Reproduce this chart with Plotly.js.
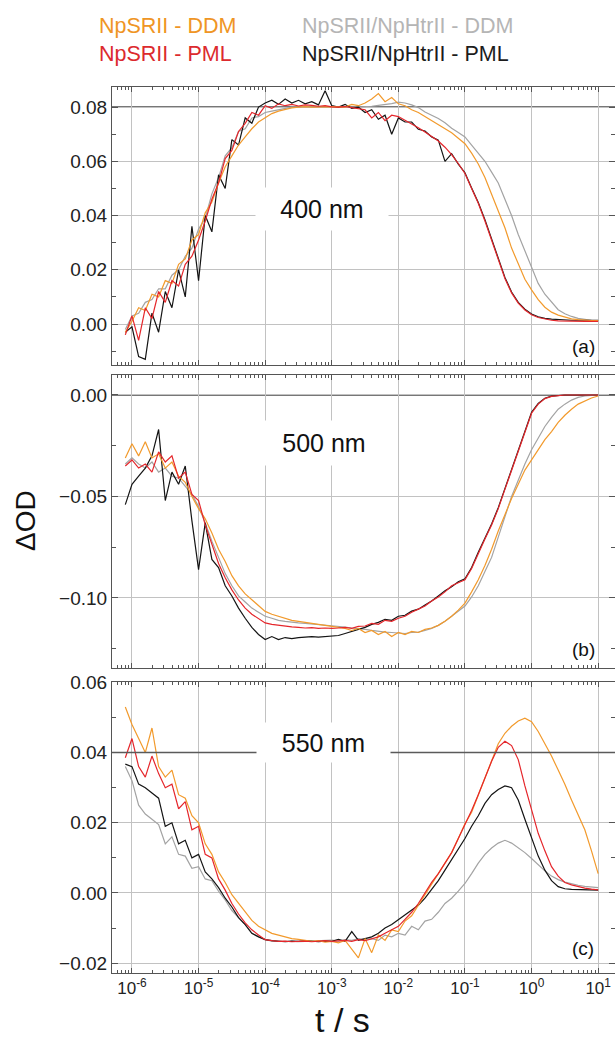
<!DOCTYPE html>
<html>
<head>
<meta charset="utf-8">
<script src="https://cdn.plot.ly/plotly-3.0.1.min.js"></script>
<style>html,body{margin:0;padding:0;background:#fff;}#chart{width:615px;height:1041px;}</style>
</head>
<body>
<div id="chart"></div>
<script>
// time grid as log10(t / s)
const logTime = [
 -6.1,-6.0,-5.9,-5.8,-5.7,-5.6,-5.5,-5.4,-5.3,-5.2,
 -5.1,-5.0,-4.9,-4.8,-4.7,-4.6,-4.5,-4.4,-4.3,-4.2,
 -4.1,-4.0,-3.9,-3.8,-3.7,-3.6,-3.5,-3.4,-3.3,-3.2,
 -3.1,-3.0,-2.9,-2.8,-2.7,-2.6,-2.5,-2.4,-2.3,-2.2,
 -2.1,-2.0,-1.9,-1.8,-1.7,-1.6,-1.5,-1.4,-1.3,-1.2,
 -1.1,-1.0,-0.9,-0.8,-0.7,-0.6,-0.5,-0.4,-0.3,-0.2,
 -0.1,0.0,0.1,0.2,0.3,0.4,0.5,0.6,0.7,0.8,
 0.9,1.0];

const seriesNames = ["NpSRII - DDM","NpSRII - PML","NpSRII/NpHtrII - DDM","NpSRII/NpHtrII - PML"];

// ---- 400 nm ----
const a_srDDM = [
 -0.003,0.001,0.006,0.005,0.011,0.010,0.016,0.015,0.022,0.024,
 0.031,0.033,0.041,0.045,0.052,0.058,0.062,0.066,0.069,0.072,
 0.0745,0.0762,0.0776,0.0785,0.0792,0.0797,0.0800,0.0802,0.0800,0.0801,
 0.0800,0.0802,0.0801,0.0800,0.0810,0.0805,0.0815,0.0830,0.0850,0.0820,
 0.0835,0.0812,0.0805,0.0790,0.0780,0.0765,0.0752,0.0738,0.0722,0.0705,
 0.0685,0.0665,0.0630,0.0590,0.0540,0.0480,0.0420,0.0355,0.0280,0.0220,
 0.0165,0.0126,0.0090,0.0062,0.0044,0.0033,0.0025,0.0019,0.0016,0.0014,
 0.0013,0.0013];
const a_srPML = [
 -0.004,0.003,-0.006,0.006,0.002,0.012,0.008,0.016,0.014,0.022,
 0.025,0.031,0.038,0.046,0.052,0.061,0.064,0.071,0.074,0.078,
 0.077,0.0805,0.0795,0.0812,0.0805,0.0810,0.0804,0.0808,0.0806,0.0803,
 0.0805,0.0801,0.0800,0.0802,0.0798,0.0795,0.0790,0.0760,0.0780,0.0750,
 0.0770,0.0765,0.0752,0.0740,0.0724,0.0708,0.0693,0.0675,0.0652,0.0625,
 0.0592,0.0555,0.0500,0.0445,0.0380,0.0310,0.0237,0.0168,0.0115,0.0077,
 0.0052,0.0034,0.0024,0.0018,0.0014,0.0012,0.0011,0.0010,0.0010,0.0010,
 0.0010,0.0010];
const a_htDDM = [
 -0.002,0.003,0.004,0.008,0.009,0.013,0.013,0.018,0.020,0.025,
 0.028,0.035,0.039,0.048,0.054,0.062,0.065,0.071,0.072,0.076,
 0.0765,0.0780,0.0785,0.0790,0.0795,0.0800,0.0800,0.0802,0.0800,0.0801,
 0.0800,0.0801,0.0800,0.0801,0.0799,0.0800,0.0801,0.0803,0.0806,0.0809,
 0.0813,0.0818,0.0815,0.0808,0.0798,0.0782,0.0770,0.0758,0.0742,0.0722,
 0.0706,0.0690,0.0660,0.0630,0.0600,0.0560,0.0520,0.0460,0.0400,0.0330,
 0.0270,0.0210,0.0150,0.0110,0.0080,0.0053,0.0038,0.0028,0.0021,0.0017,
 0.0014,0.0013];
const a_htPML = [
 -0.003,-0.001,-0.012,-0.013,0.004,-0.003,0.012,0.006,0.020,0.010,
 0.036,0.016,0.040,0.034,0.055,0.050,0.068,0.066,0.076,0.074,
 0.0800,0.0815,0.0825,0.0810,0.0830,0.0815,0.0825,0.0812,0.0820,0.0808,
 0.0860,0.0805,0.0800,0.0810,0.0795,0.0800,0.0780,0.0790,0.0755,0.0770,
 0.0700,0.0760,0.0745,0.0745,0.0718,0.0712,0.0690,0.0678,0.0600,0.0628,
 0.0590,0.0558,0.0502,0.0448,0.0385,0.0312,0.0240,0.0172,0.0118,0.0080,
 0.0055,0.0037,0.0027,0.0021,0.0018,0.0016,0.0015,0.0014,0.0014,0.0014,
 0.0014,0.0014];

// ---- 500 nm ----
const b_srDDM = [
 -0.031,-0.024,-0.030,-0.023,-0.031,-0.029,-0.036,-0.033,-0.040,-0.043,
 -0.050,-0.056,-0.061,-0.068,-0.076,-0.082,-0.089,-0.094,-0.098,-0.101,
 -0.104,-0.1066,-0.108,-0.109,-0.110,-0.111,-0.1115,-0.112,-0.1125,-0.113,
 -0.1135,-0.114,-0.1145,-0.115,-0.116,-0.115,-0.117,-0.116,-0.118,-0.1165,
 -0.119,-0.117,-0.118,-0.1165,-0.117,-0.1155,-0.1148,-0.1135,-0.1115,-0.109,
 -0.106,-0.1025,-0.097,-0.091,-0.084,-0.076,-0.067,-0.059,-0.051,-0.044,
 -0.037,-0.032,-0.027,-0.022,-0.018,-0.0135,-0.010,-0.007,-0.0045,-0.0028,
 -0.0015,-0.0005];
const b_srPML = [
 -0.035,-0.032,-0.036,-0.034,-0.038,-0.028,-0.033,-0.030,-0.041,-0.038,
 -0.049,-0.052,-0.064,-0.074,-0.083,-0.090,-0.096,-0.101,-0.105,-0.108,
 -0.110,-0.1123,-0.113,-0.1135,-0.114,-0.1142,-0.1145,-0.1148,-0.1146,-0.115,
 -0.1148,-0.115,-0.1148,-0.1145,-0.115,-0.114,-0.1138,-0.1125,-0.113,-0.111,
 -0.1115,-0.110,-0.109,-0.107,-0.1055,-0.104,-0.1015,-0.0995,-0.097,-0.094,
 -0.0925,-0.091,-0.0855,-0.078,-0.071,-0.064,-0.056,-0.0465,-0.037,-0.027,
 -0.0175,-0.009,-0.0045,-0.0018,-0.0007,-0.0002,0.0,0.0,0.0,0.0,
 0.0,0.0];
const b_htDDM = [
 -0.034,-0.031,-0.034,-0.036,-0.033,-0.038,-0.036,-0.040,-0.041,-0.045,
 -0.049,-0.055,-0.063,-0.072,-0.080,-0.088,-0.094,-0.099,-0.102,-0.105,
 -0.107,-0.109,-0.110,-0.111,-0.1115,-0.112,-0.1123,-0.1125,-0.1128,-0.113,
 -0.1132,-0.1135,-0.114,-0.1143,-0.1148,-0.115,-0.1155,-0.116,-0.1165,-0.1168,
 -0.117,-0.1172,-0.1175,-0.117,-0.1168,-0.116,-0.115,-0.1135,-0.1115,-0.109,
 -0.1065,-0.104,-0.0995,-0.094,-0.087,-0.080,-0.070,-0.060,-0.050,-0.042,
 -0.034,-0.027,-0.021,-0.0155,-0.011,-0.007,-0.0045,-0.0025,-0.0012,-0.0005,
 -0.0002,0.0];
const b_htPML = [
 -0.054,-0.044,-0.040,-0.036,-0.030,-0.017,-0.052,-0.038,-0.044,-0.035,
 -0.062,-0.086,-0.063,-0.081,-0.085,-0.094,-0.099,-0.105,-0.110,-0.1145,
 -0.118,-0.1205,-0.119,-0.1205,-0.1195,-0.120,-0.1195,-0.1192,-0.119,-0.1193,
 -0.119,-0.1188,-0.1185,-0.1175,-0.1165,-0.1155,-0.1145,-0.113,-0.112,-0.1105,
 -0.111,-0.109,-0.1085,-0.1065,-0.1055,-0.1035,-0.1015,-0.099,-0.0965,-0.0945,
 -0.092,-0.0905,-0.085,-0.0775,-0.0705,-0.0635,-0.0555,-0.046,-0.0365,-0.0265,
 -0.017,-0.0085,-0.0042,-0.0016,-0.0006,-0.0002,0.0,0.0,0.0,0.0,
 0.0,0.0];

// ---- 550 nm ----
const c_srDDM = [
 0.053,0.048,0.044,0.040,0.047,0.036,0.033,0.035,0.028,0.027,
 0.022,0.020,0.014,0.011,0.006,0.003,-0.0005,-0.003,-0.0055,-0.0078,
 -0.0095,-0.0105,-0.0115,-0.012,-0.0125,-0.013,-0.0132,-0.0135,-0.0138,-0.0136,
 -0.014,-0.0138,-0.0142,-0.0135,-0.016,-0.0185,-0.013,-0.017,-0.012,-0.0135,
 -0.0105,-0.011,-0.008,-0.0065,-0.0035,-0.0005,0.0025,0.0055,0.0085,0.0115,
 0.0155,0.0197,0.023,0.028,0.033,0.038,0.0425,0.0455,0.0475,0.049,
 0.0498,0.0488,0.046,0.0425,0.039,0.035,0.031,0.0265,0.022,0.018,
 0.012,0.0055];
const c_srPML = [
 0.0385,0.044,0.036,0.033,0.039,0.034,0.030,0.031,0.024,0.026,
 0.018,0.019,0.011,0.010,0.004,0.0008,-0.003,-0.006,-0.0085,-0.0105,
 -0.012,-0.0133,-0.0136,-0.0138,-0.0137,-0.0139,-0.0138,-0.0137,-0.0139,-0.0138,
 -0.0136,-0.0138,-0.0137,-0.0135,-0.0138,-0.0133,-0.0136,-0.013,-0.0125,-0.0115,
 -0.0105,-0.0095,-0.0075,-0.0055,-0.003,0.0,0.003,0.0055,0.0085,0.0115,
 0.0155,0.0195,0.0235,0.028,0.033,0.0375,0.0415,0.0432,0.042,0.038,
 0.0305,0.024,0.017,0.012,0.0075,0.0048,0.003,0.0023,0.0018,0.0014,
 0.0011,0.0009];
const c_htDDM = [
 0.036,0.032,0.025,0.0225,0.021,0.0195,0.014,0.016,0.011,0.0105,
 0.007,0.0075,0.004,0.0035,0.0005,-0.002,-0.005,-0.007,-0.009,-0.0115,
 -0.0125,-0.0133,-0.0137,-0.0138,-0.0138,-0.0137,-0.0139,-0.0138,-0.0137,-0.0138,
 -0.0136,-0.0134,-0.0137,-0.0133,-0.0135,-0.013,-0.0133,-0.013,-0.0135,-0.012,
 -0.0125,-0.0115,-0.012,-0.0095,-0.0105,-0.008,-0.0075,-0.0055,-0.003,-0.0015,
 0.0005,0.0027,0.0055,0.0085,0.011,0.0128,0.0142,0.015,0.0142,0.0128,
 0.0115,0.0098,0.008,0.0063,0.0048,0.0038,0.0031,0.0026,0.0022,0.0019,
 0.0017,0.0015];
const c_htPML = [
 0.0367,0.036,0.031,0.030,0.0285,0.027,0.019,0.020,0.014,0.015,
 0.010,0.011,0.006,0.004,0.0015,-0.0015,-0.004,-0.007,-0.009,-0.0115,
 -0.0125,-0.0133,-0.0136,-0.0138,-0.0139,-0.0137,-0.0138,-0.0136,-0.0138,-0.0139,
 -0.0137,-0.0138,-0.0132,-0.0138,-0.011,-0.0135,-0.013,-0.0125,-0.0115,-0.010,
 -0.009,-0.0076,-0.0062,-0.005,-0.0035,-0.0015,0.001,0.0035,0.0065,0.0095,
 0.0125,0.0155,0.019,0.022,0.0255,0.028,0.0295,0.0305,0.030,0.0265,
 0.021,0.0158,0.0105,0.0065,0.0035,0.0018,0.0012,0.001,0.0009,0.0008,
 0.0008,0.0008];

const xTickVals = [1e-6,1e-5,1e-4,1e-3,1e-2,1e-1,1e0,1e1];
const xTickText = ["10<sup>-6</sup>","10<sup>-5</sup>","10<sup>-4</sup>","10<sup>-3</sup>","10<sup>-2</sup>","10<sup>-1</sup>","10<sup>0</sup>","10<sup>1</sup>"];
const panelLabels = ["(a)","(b)","(c)"];
const wavelengthLabels = ["400 nm","500 nm","550 nm"];

// ---- build ----
const t = logTime.map(e => Math.pow(10, e));
const colors = {srDDM:"#F29A2C", srPML:"#E5262B", htDDM:"#A3A3A3", htPML:"#141414"};
const textColors = ["#EF9525","#DC2A2E","#B5B5B5","#1C1C1C"];
const FONT = "Liberation Sans, Arial, Helvetica, sans-serif";

const panels = [
  {xa:"x", ya:"y", d:{srDDM:a_srDDM, srPML:a_srPML, htDDM:a_htDDM, htPML:a_htPML}},
  {xa:"x2", ya:"y2", d:{srDDM:b_srDDM, srPML:b_srPML, htDDM:b_htDDM, htPML:b_htPML}},
  {xa:"x3", ya:"y3", d:{srDDM:c_srDDM, srPML:c_srPML, htDDM:c_htDDM, htPML:c_htPML}}
];
const order = ["htDDM","htPML","srDDM","srPML"];
const nameOf = {srDDM:seriesNames[0], srPML:seriesNames[1], htDDM:seriesNames[2], htPML:seriesNames[3]};
const traces = [];
panels.forEach(p => {
  order.forEach(k => {
    traces.push({x:t, y:p.d[k], xaxis:p.xa, yaxis:p.ya, type:"scatter", mode:"lines",
      name:nameOf[k], showlegend:false, line:{color:colors[k], width:1.2}});
  });
});

const minorX = [];
for (let k = -7; k <= 0; k++) for (let m = 2; m <= 9; m++) minorX.push(m * Math.pow(10, k));

// plot area: x 112..615, y 87..973
const T0 = 87, B0 = 973, H = B0 - T0;
const py = v => (B0 - v) / H;
const px = v => (v - 112) / 503;

function xax(show) {
  return {type:"log", range:[-6.3, 1.253], tickmode:"array", tickvals:xTickVals, ticktext:xTickText,
    showticklabels:show, showgrid:true, gridcolor:"#c2c2c2", gridwidth:1, zeroline:false,
    showline:true, linecolor:"#555", linewidth:1, mirror:"allticks", ticks:"inside", ticklen:5,
    tickcolor:"#555", tickfont:{family:FONT, size:17, color:"#222"},
    minor:{tickmode:"array", tickvals:minorX, ticks:"inside", ticklen:3, tickcolor:"#555", showgrid:false}};
}
function yax(dom, range, dt, mdt) {
  return {domain:dom, range:range, tickmode:"linear", tick0:0, dtick:dt, tickformat:".2f",
    showgrid:true, gridcolor:"#c2c2c2", gridwidth:1, zeroline:false,
    showline:true, linecolor:"#555", linewidth:1, mirror:"allticks", ticks:"inside", ticklen:6,
    tickcolor:"#555", tickfont:{family:FONT, size:19, color:"#222"},
    minor:{dtick:mdt, ticks:"inside", ticklen:4, tickcolor:"#555", showgrid:false}};
}

const layout = {
  width:615, height:1041, paper_bgcolor:"#fff", plot_bgcolor:"#fff",
  margin:{l:112, r:0, t:T0, b:1041-B0},
  font:{family:FONT},
  showlegend:false,
  xaxis: Object.assign(xax(false), {anchor:"y", matches:"x3"}),
  xaxis2: Object.assign(xax(false), {anchor:"y2", matches:"x3"}),
  xaxis3: Object.assign(xax(true), {anchor:"y3"}),
  yaxis: Object.assign(yax([py(365), 1], [-0.0151, 0.0874], 0.02, 0.01), {anchor:"x"}),
  yaxis2: Object.assign(yax([py(668), py(375)], [-0.1345, 0.00985], 0.05, 0.025), {anchor:"x2"}),
  yaxis3: Object.assign(yax([0, py(682)], [-0.0228, 0.0601], 0.02, 0.01), {anchor:"x3"}),
  shapes:[
    {type:"line", xref:"x domain", yref:"y", x0:0, x1:1, y0:0.08, y1:0.08, layer:"below", line:{color:"#4a4a4a", width:1.6}},
    {type:"line", xref:"x2 domain", yref:"y2", x0:0, x1:1, y0:0, y1:0, layer:"below", line:{color:"#4a4a4a", width:1.6}},
    {type:"line", xref:"x3 domain", yref:"y3", x0:0, x1:1, y0:0.04, y1:0.04, layer:"above", line:{color:"#5a5a5a", width:1.5}}
  ],
  annotations:[
    {text:seriesNames[0], xref:"paper", yref:"paper", x:px(97), y:py(26), xanchor:"left", yanchor:"middle", showarrow:false, font:{family:FONT, size:21.5, color:textColors[0]}},
    {text:seriesNames[1], xref:"paper", yref:"paper", x:px(97), y:py(54), xanchor:"left", yanchor:"middle", showarrow:false, font:{family:FONT, size:21.5, color:textColors[1]}},
    {text:seriesNames[2], xref:"paper", yref:"paper", x:px(300), y:py(26), xanchor:"left", yanchor:"middle", showarrow:false, font:{family:FONT, size:21.5, color:textColors[2]}},
    {text:seriesNames[3], xref:"paper", yref:"paper", x:px(300), y:py(54), xanchor:"left", yanchor:"middle", showarrow:false, font:{family:FONT, size:21.5, color:textColors[3]}},
    {text:wavelengthLabels[0], xref:"paper", yref:"paper", x:px(322), y:py(209), xanchor:"center", yanchor:"middle", width:130, height:40, bgcolor:"#fff", showarrow:false, font:{family:FONT, size:25, color:"#111"}},
    {text:wavelengthLabels[1], xref:"paper", yref:"paper", x:px(324), y:py(443), xanchor:"center", yanchor:"middle", width:130, height:42, bgcolor:"#fff", showarrow:false, font:{family:FONT, size:25, color:"#111"}},
    {text:wavelengthLabels[2], xref:"paper", yref:"paper", x:px(323), y:py(742), xanchor:"center", yanchor:"middle", width:131, height:37, bgcolor:"#fff", showarrow:false, font:{family:FONT, size:25, color:"#111"}},
    {text:panelLabels[0], xref:"paper", yref:"paper", x:px(583), y:py(346), xanchor:"center", yanchor:"middle", showarrow:false, font:{family:FONT, size:19, color:"#111"}},
    {text:panelLabels[1], xref:"paper", yref:"paper", x:px(583), y:py(649), xanchor:"center", yanchor:"middle", showarrow:false, font:{family:FONT, size:19, color:"#111"}},
    {text:panelLabels[2], xref:"paper", yref:"paper", x:px(583), y:py(948), xanchor:"center", yanchor:"middle", showarrow:false, font:{family:FONT, size:19, color:"#111"}},
    {text:"t / s", xref:"paper", yref:"paper", x:px(342), y:py(1020), xanchor:"center", yanchor:"middle", showarrow:false, font:{family:FONT, size:34, color:"#111"}},
    {text:"ΔOD", xref:"paper", yref:"paper", x:px(25), y:py(521), xanchor:"center", yanchor:"middle", textangle:-90, showarrow:false, font:{family:FONT, size:28, color:"#111"}}
  ]
};

Plotly.newPlot("chart", traces, layout, {staticPlot:true, displayModeBar:false});
</script>
</body>
</html>
